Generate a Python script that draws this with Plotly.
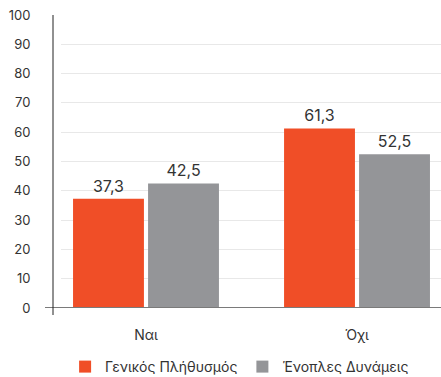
import plotly.graph_objects as go

categories = ["Ναι", "Όχι"]
general_population = [37.3, 61.3]
armed_forces = [42.5, 52.5]
series_names = ["Γενικός Πλήθυσμός", "Ένοπλες Δυνάμεις"]
y_ticks = [0, 10, 20, 30, 40, 50, 60, 70, 80, 90, 100]

ORANGE = "#F04E27"
GREY = "#949598"
FONT = "Inter"

fig = go.Figure()
for name, values, color in [
    (series_names[0], general_population, ORANGE),
    (series_names[1], armed_forces, GREY),
]:
    fig.add_trace(go.Bar(
        x=categories, y=values, name=name,
        marker=dict(color=color, line=dict(width=0)),
        texttemplate="%{y:.1f}", textposition="outside",
        textfont=dict(size=16, color="#333333", family=FONT),
        cliponaxis=False,
    ))

plot_w = 441 - 61
plot_h = 377 - 15 - 69
fig.update_layout(
    width=441, height=377,
    margin=dict(l=61, r=0, t=15, b=69, autoexpand=False),
    paper_bgcolor="white", plot_bgcolor="white",
    separators=", ",
    barmode="group", bargap=0.289, bargroupgap=0.055,
    font=dict(family=FONT, color="#333333", size=13),
    showlegend=True,
    legend=dict(orientation="h", x=0.47, xanchor="center",
                yref="container", y=10 / 377, yanchor="middle",
                font=dict(size=14, color="#333333"), itemwidth=30),
    xaxis=dict(range=[-0.4028, 1.398], showgrid=False, zeroline=False, showline=False,
               ticks="outside", ticklen=14, tickcolor="rgba(0,0,0,0)",
               tickfont=dict(size=14, color="#333333")),
    yaxis=dict(range=[0, 100], tickvals=y_ticks, showgrid=True, gridcolor="#e8e8e8",
               gridwidth=1, zeroline=False, showline=False,
               ticks="outside", ticklen=27, tickcolor="rgba(0,0,0,0)",
               tickfont=dict(size=13, color="#333333")),
)

# baseline under the bars and the vertical axis line
fig.add_shape(type="line", xref="paper", yref="y", x0=-16 / plot_w, x1=1, y0=0, y1=0,
              line=dict(color="#7a7a7a", width=2), layer="above")
fig.add_shape(type="line", xref="paper", yref="paper", x0=-8 / plot_w, x1=-8 / plot_w,
              y0=-7 / plot_h, y1=1, line=dict(color="#222222", width=1), layer="above")

fig.write_html("out.html")
